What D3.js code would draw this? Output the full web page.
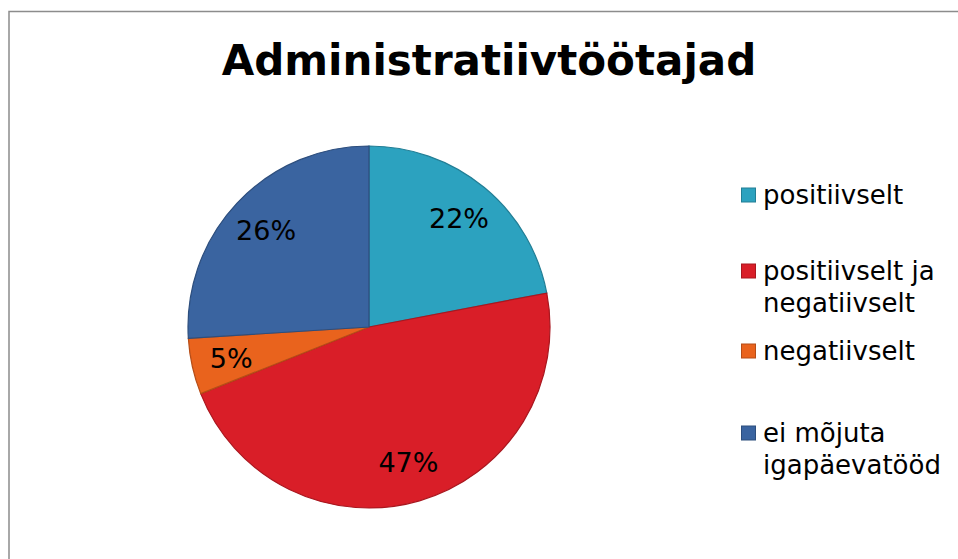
<!DOCTYPE html>
<html>
<head>
<meta charset="utf-8">
<script src="https://cdn.jsdelivr.net/npm/d3@7"></script>
<style>
  body { margin: 0; background: #fff; }
  svg text { font-family: "DejaVu Sans", Verdana, sans-serif; }
</style>
</head>
<body>
<div id="chart"></div>
<script>
// chart data
var titleText = "Administratiivtöötajad";
var categories = ["positiivselt", "positiivselt ja negatiivselt", "negatiivselt", "ei mõjuta igapäevatööd"];
var legendLines = [["positiivselt"], ["positiivselt ja", "negatiivselt"], ["negatiivselt"], ["ei mõjuta", "igapäevatööd"]];
var values = [22, 47, 5, 26];
var colors = ["#2ca2bf", "#d91e28", "#e9631d", "#3a64a0"];

var svgWidth = 958;
var svgHeight = 559;

var svg = d3.select("#chart")
    .append("svg")
    .attr("width", svgWidth)
    .attr("height", svgHeight);

// chart frame
svg.append("rect")
    .attr("x", 9)
    .attr("y", 11.5)
    .attr("width", svgWidth)
    .attr("height", svgHeight)
    .attr("fill", "none")
    .attr("stroke", "#8c8c8c")
    .attr("stroke-width", 1.5);

svg.append("text")
    .attr("x", 489)
    .attr("y", 75)
    .attr("text-anchor", "middle")
    .attr("font-size", "42px")
    .attr("font-weight", "bold")
    .text(titleText);

var cx = 369, cy = 327, radius = 181;

var pie = d3.pie().sort(null).value(d => d);
var arcs = pie(values);

var arc = d3.arc().innerRadius(0).outerRadius(radius);
var labelArc = d3.arc().innerRadius(radius * 0.78).outerRadius(radius * 0.78);

var pieGroup = svg.append("g")
    .attr("transform", `translate(${cx}, ${cy})`);

pieGroup.selectAll("path")
    .data(arcs)
    .enter()
    .append("path")
    .attr("d", arc)
    .attr("fill", (d, i) => colors[i])
    .attr("stroke", (d, i) => d3.color(colors[i]).darker(0.7))
    .attr("stroke-width", 1.2);

var total = d3.sum(values);
pieGroup.selectAll("text")
    .data(arcs)
    .enter()
    .append("text")
    .attr("x", d => labelArc.centroid(d)[0])
    .attr("y", d => labelArc.centroid(d)[1])
    .attr("dy", "0.36em")
    .attr("text-anchor", "middle")
    .attr("font-size", "27px")
    .attr("fill", "#000")
    .text(d => Math.round(d.value / total * 100) + "%");

// legend
var legendY = [195, 271, 351, 433];
var legend = svg.append("g");

var items = legend.selectAll("g")
    .data(categories)
    .enter()
    .append("g")
    .attr("transform", (d, i) => `translate(741, ${legendY[i]})`);

items.append("rect")
    .attr("x", 0.5)
    .attr("y", -7)
    .attr("width", 14)
    .attr("height", 14)
    .attr("fill", (d, i) => colors[i])
    .attr("stroke", (d, i) => d3.color(colors[i]).darker(0.7))
    .attr("stroke-width", 1);

items.append("text")
    .attr("x", 22)
    .attr("y", 9)
    .attr("font-size", "26px")
    .attr("fill", "#000")
    .selectAll("tspan")
    .data((d, i) => legendLines[i])
    .enter()
    .append("tspan")
    .attr("x", 22)
    .attr("dy", (d, j) => j === 0 ? 0 : 32)
    .text(d => d);
</script>
</body>
</html>
